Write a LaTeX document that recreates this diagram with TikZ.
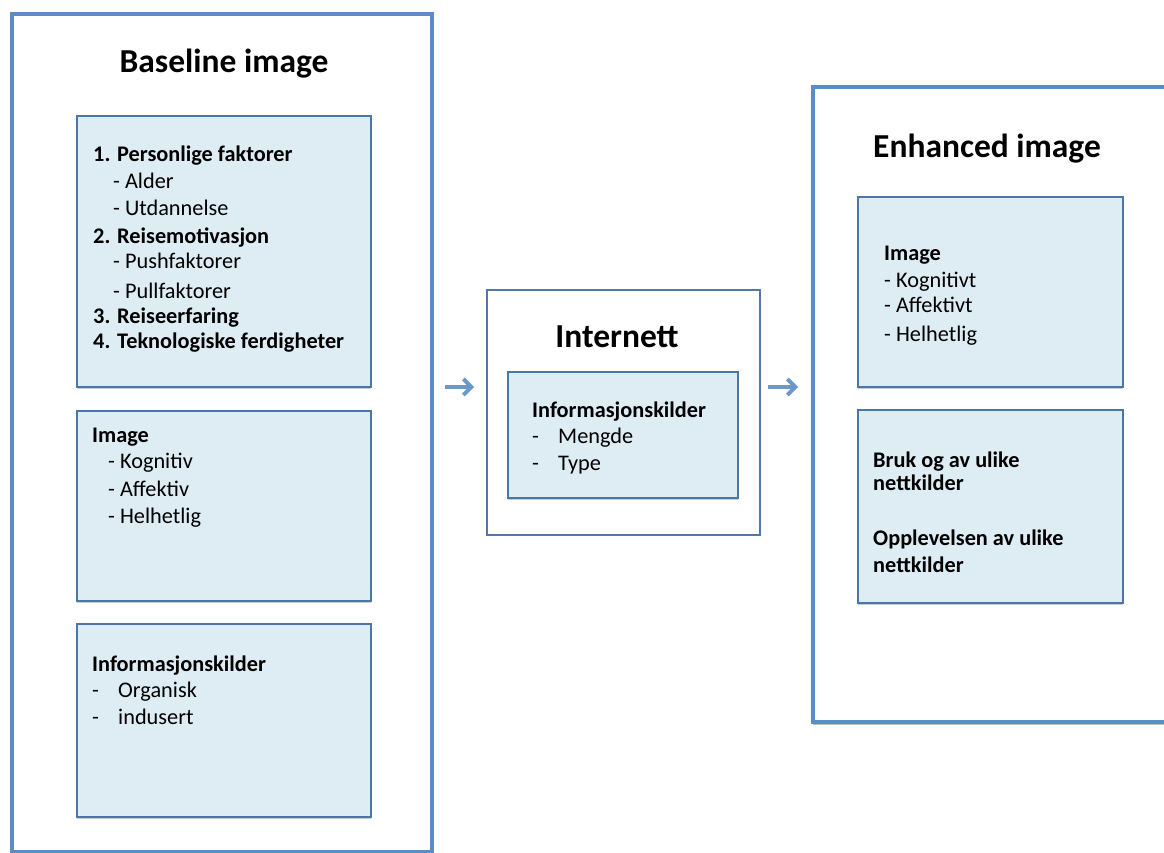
\documentclass[tikz,border=0pt]{standalone}
\usepackage{fontspec}
\setmainfont{Carlito}
\usetikzlibrary{arrows.meta,shadows}
\definecolor{outerblue}{RGB}{92,140,198}
\definecolor{innerblue}{RGB}{74,118,168}
\definecolor{innerfill}{RGB}{222,236,243}
\definecolor{arrowblue}{RGB}{105,152,205}
\definecolor{midblue}{RGB}{80,120,170}
\tikzset{
  boxbase/.style={rectangle, anchor=north west, inner sep=0pt, outer sep=0pt},
  outerbox/.style={boxbase, draw=outerblue, line width=4pt, fill=white,
    drop shadow={shadow xshift=0pt, shadow yshift=-3pt, opacity=0.25, fill=black}},
  midbox/.style={boxbase, draw=midblue, line width=2.2pt, fill=white},
  innerbox/.style={boxbase, draw=innerblue, line width=2.6pt, fill=innerfill,
    drop shadow={shadow xshift=0pt, shadow yshift=-1.5pt, opacity=0.2, fill=black}},
  title/.style={font=\bfseries\fontsize{33.5}{38}\selectfont, anchor=base, inner sep=0pt},
  txt/.style={font=\fontsize{22.3}{26}\selectfont, anchor=base west, inner sep=0pt},
  btxt/.style={font=\bfseries\fontsize{22.3}{26}\selectfont, anchor=base west, inner sep=0pt},
  flowarrow/.style={draw=arrowblue, line width=3.8pt, -{Straight Barb[length=8pt,width=16pt]}}
}
\begin{document}
\begin{tikzpicture}[x=1pt,y=-1pt]
\useasboundingbox (0,0) rectangle (1164,853);
% outer boxes
\node[outerbox, minimum width=420pt, minimum height=838pt] (baseline) at (12,14) {};
\node[outerbox, minimum width=367pt, minimum height=635pt] (enhanced) at (813,87) {};
\node[midbox, minimum width=273pt, minimum height=245pt] (internett) at (487,290) {};
% inner boxes
\node[innerbox, minimum width=294pt, minimum height=271pt] (bx1) at (77,116) {};
\node[innerbox, minimum width=294pt, minimum height=190pt] (bx2) at (77,411) {};
\node[innerbox, minimum width=294pt, minimum height=193pt] (bx3) at (77,624) {};
\node[innerbox, minimum width=230pt, minimum height=126pt] (mx1) at (508,372) {};
\node[innerbox, minimum width=265pt, minimum height=190pt] (ex1) at (858,197) {};
\node[innerbox, minimum width=265pt, minimum height=193pt] (ex2) at (858,410) {};
% titles
\node[title] (t1) at (224,73) {Baseline image};
\node[title] (t2) at (617,347) {Internett};
\node[title] (t3) at (987,158) {Enhanced image};
% box 1
\node[btxt] (p1) at (93,162) {1. Personlige faktorer};
\node[txt] (p1a) at (113,189) {- Alder};
\node[txt] (p1b) at (113,215) {- Utdannelse};
\node[btxt] (p2) at (93,243) {2. Reisemotivasjon};
\node[txt] (p2a) at (113,268) {- Pushfaktorer};
\node[txt] (p2b) at (113,298) {- Pullfaktorer};
\node[btxt] (p3) at (93,323) {3. Reiseerfaring};
\node[btxt] (p4) at (93,348) {4. Teknologiske ferdigheter};
% box 2
\node[btxt] (i0) at (92,442) {Image};
\node[txt] (i1) at (108,468) {- Kognitiv};
\node[txt] (i2) at (108,496) {- Affektiv};
\node[txt] (i3) at (108,523) {- Helhetlig};
% box 3
\node[btxt] (k0) at (92,671) {Informasjonskilder};
\node[txt] (k1d) at (92,697) {-};
\node[txt] (k1) at (118,697) {Organisk};
\node[txt] (k2d) at (92,724) {-};
\node[txt] (k2) at (118,724) {indusert};
% middle
\node[btxt] (m0) at (532,417) {Informasjonskilder};
\node[txt] (m1d) at (532,443) {-};
\node[txt] (m1) at (558,443) {Mengde};
\node[txt] (m2d) at (532,470) {-};
\node[txt] (m2) at (558,470) {Type};
% right A
\node[btxt] (e0) at (884,260) {Image};
\node[txt] (e1) at (884,287) {- Kognitivt};
\node[txt] (e2) at (884,312) {- Affektivt};
\node[txt] (e3) at (884,341) {- Helhetlig};
% right B
\node[btxt] (b1) at (873,467) {Bruk og av ulike};
\node[btxt] (b2) at (873,490) {nettkilder};
\node[btxt] (b3) at (873,545) {Opplevelsen av ulike};
\node[btxt] (b4) at (873,572) {nettkilder};
% arrows
\draw[flowarrow] ([xshift=13pt]baseline.east |- 0,387) -- ([xshift=-13pt]internett.west |- 0,387);
\draw[flowarrow] ([xshift=8pt]internett.east |- 0,387) -- ([xshift=-15pt]enhanced.west |- 0,387);
\end{tikzpicture}
\end{document}
